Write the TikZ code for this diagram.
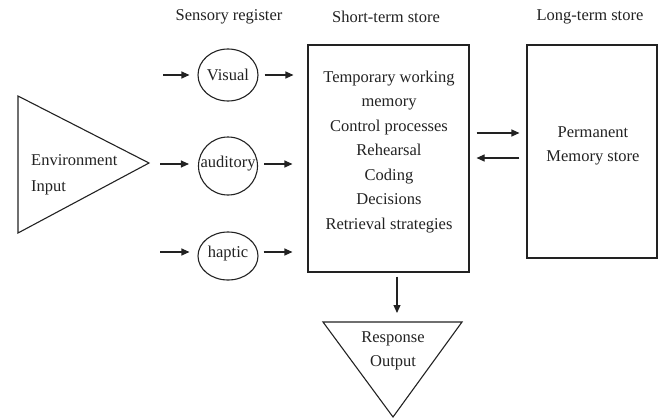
\documentclass[tikz,border=0pt]{standalone}
\usepackage{fontspec}
\setmainfont{Liberation Serif}
\usetikzlibrary{arrows.meta,shapes.geometric}
\definecolor{ink}{HTML}{222222}
\begin{document}
\begin{tikzpicture}[x=1pt,y=-1pt,
  every node/.style={font=\fontsize{16.5}{20}\selectfont, text=ink, inner sep=0pt},
  lbl/.style={anchor=center},
  shp/.style={draw=ink, line width=1.1pt},
  sense/.style={draw=ink, line width=1.1pt, ellipse},
  arr/.style={draw=ink, line width=1.1pt, -{Triangle[length=8pt,width=7pt]}}
]
\useasboundingbox (0,0) rectangle (663,418);
% titles
\node[lbl] (t1) at (229,17) {Sensory register};
\node[lbl] (t2) at (386,17) {Short-term store};
\node[lbl] (t3) at (590,17) {Long-term store};
% environment triangle
\coordinate (e1) at (18,96);
\coordinate (e2) at (18,233);
\coordinate (e3) at (149,163);
\draw[shp, line join=miter] (e1) -- (e3) -- (e2) -- cycle;
\node[lbl, align=left, anchor=west] (env) at (31,175) {Environment\\[6pt]Input};
% sensory ellipses
\node[sense, minimum width=60pt, minimum height=52pt] (vis) at (228,75) {};
\node[lbl] (vistxt) at (228,75) {Visual};
\node[sense, minimum width=59pt, minimum height=58pt] (aud) at (228,166) {};
\node[lbl] (audtxt) at (228,164) {auditory};
\node[sense, minimum width=60pt, minimum height=48pt] (hap) at (228,256) {};
\node[lbl] (haptxt) at (228,254) {haptic};
% short-term store
\node[shp, minimum width=161pt, minimum height=227pt] (sts) at (388.5,158.5) {};
\node[lbl, align=center] (ststxt) at (389,152) {Temporary working\\[4.5pt]memory\\[4.5pt]Control processes\\[4.5pt]Rehearsal\\[4.5pt]Coding\\[4.5pt]Decisions\\[4.5pt]Retrieval strategies};
% long-term store
\node[shp, minimum width=130pt, minimum height=213pt] (lts) at (592,151.5) {};
\node[lbl, align=center] (ltstxt) at (593,146) {Permanent\\[4.5pt]Memory store};
% response triangle
\coordinate (r1) at (323,322);
\coordinate (r2) at (462,322);
\coordinate (r3) at (393,417);
\draw[shp, line join=miter] (r1) -- (r2) -- (r3) -- cycle;
\node[lbl, align=center] (resp) at (393,351) {Response\\[4.5pt]Output};
% incoming arrow starts
\coordinate (vin) at (163,75);
\coordinate (ain) at (160,164);
\coordinate (hin) at (160,252);
\draw[arr, shorten >=8pt] (vin) -- (vis.west |- vin);
\draw[arr, shorten >=9pt] (ain) -- (aud.west |- ain);
\draw[arr, shorten >=8pt] (hin) -- (hap.west |- hin);
% outgoing to STS
\draw[arr, shorten <=6pt, shorten >=14pt] (vis.east |- vin) -- (sts.west |- vin);
\draw[arr, shorten <=6pt, shorten >=15pt] (aud.east |- ain) -- (sts.west |- ain);
\draw[arr, shorten <=5pt, shorten >=15pt] (hap.east |- hin) -- (sts.west |- hin);
% between stores
\coordinate (y1) at (0,133);
\coordinate (y2) at (0,158);
\draw[arr, shorten <=7pt, shorten >=7pt] (sts.east |- y1) -- (lts.west |- y1);
\draw[arr, shorten <=7pt, shorten >=7pt] (lts.west |- y2) -- (sts.east |- y2);
% down arrow
\draw[arr, shorten <=4pt, shorten >=9pt] (sts.south -| 397,0) -- (397,322);
\end{tikzpicture}
\end{document}
